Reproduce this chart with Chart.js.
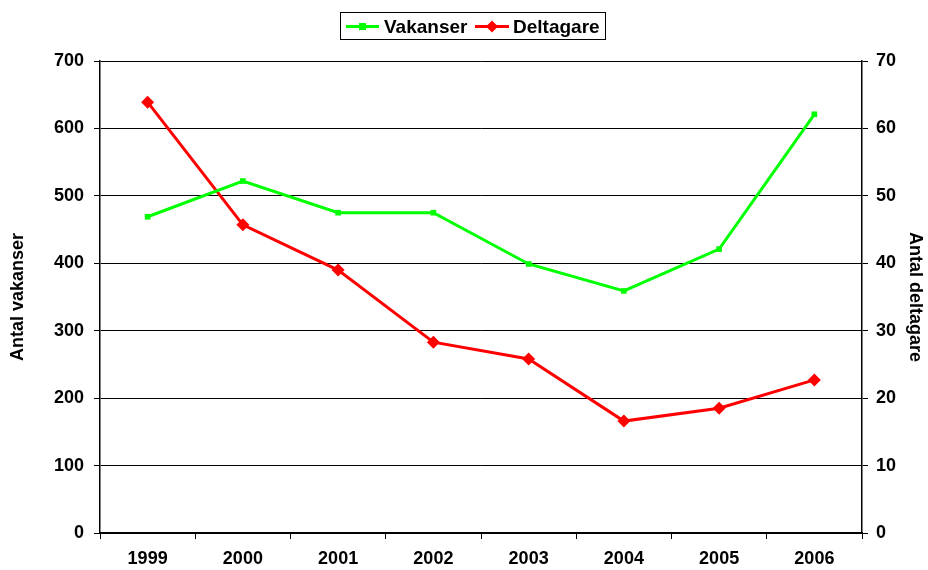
<!DOCTYPE html>
<html><head><meta charset="utf-8">
<script src="https://cdn.jsdelivr.net/npm/chart.js@4/dist/chart.umd.min.js"></script>
<style>html,body{margin:0;padding:0;background:#fff}#wrap{width:928px;height:570px}</style>
</head><body><div id="wrap"><canvas id="c" width="928" height="570"></canvas></div>
<script>
const years = ['1999','2000','2001','2002','2003','2004','2005','2006'];
const vakanser = [469, 522, 475, 475, 399, 359, 421, 621];
const deltagare = [63.9, 45.7, 39.0, 28.3, 25.8, 16.6, 18.5, 22.7];
const leftTicks = [0,100,200,300,400,500,600,700];
const rightTicks = [0,10,20,30,40,50,60,70];
const seriesNames = ['Vakanser','Deltagare'];

const FONT = 'Liberation Sans, Arial, sans-serif';

const legendPlugin = {
  id: 'boxLegend',
  afterDraw(chart) {
    const ctx = chart.ctx;
    ctx.save();
    const x0 = 340, y0 = 12, w = 265, h = 27;
    ctx.fillStyle = '#fff';
    ctx.fillRect(x0, y0, w, h);
    ctx.strokeStyle = '#000'; ctx.lineWidth = 1;
    ctx.strokeRect(x0 + 0.5, y0 + 0.5, w, h);
    const items = [
      {name: seriesNames[0], color: '#00ff00', style: 'rect', x: 346, len: 33, tx: 384},
      {name: seriesNames[1], color: '#ff0000', style: 'diamond', x: 475, len: 34, tx: 513}
    ];
    const cy = y0 + h / 2 + 1;
    ctx.font = 'bold 19px ' + FONT;
    ctx.textBaseline = 'middle';
    items.forEach(it => {
      ctx.strokeStyle = it.color; ctx.lineWidth = 3;
      ctx.beginPath(); ctx.moveTo(it.x, cy); ctx.lineTo(it.x + it.len, cy); ctx.stroke();
      ctx.fillStyle = it.color;
      const mx = it.x + it.len / 2;
      if (it.style === 'rect') { ctx.fillRect(mx - 3.5, cy - 3.5, 7, 7); }
      else { ctx.beginPath(); ctx.moveTo(mx, cy - 6); ctx.lineTo(mx + 6, cy); ctx.lineTo(mx, cy + 6); ctx.lineTo(mx - 6, cy); ctx.closePath(); ctx.fill(); }
      ctx.fillStyle = '#000';
      ctx.textAlign = 'left';
      ctx.fillText(it.name, it.tx, cy + 1);
    });
    ctx.restore();
  }
};

new Chart(document.getElementById('c'), {
  type: 'line',
  data: {
    labels: years,
    datasets: [
      { label: seriesNames[0], data: vakanser, yAxisID: 'y', borderColor: '#00ff00', backgroundColor: '#00ff00',
        borderWidth: 3, pointStyle: 'rect', pointRadius: 4, pointBorderWidth: 0, tension: 0 },
      { label: seriesNames[1], data: deltagare, yAxisID: 'y1', borderColor: '#ff0000', backgroundColor: '#ff0000',
        borderWidth: 3, pointStyle: 'rectRot', pointRadius: 6.5, pointBorderWidth: 0, tension: 0 }
    ]
  },
  options: {
    responsive: false, animation: false,
    layout: { padding: { top: 61, left: 0, right: 0, bottom: 0 } },
    plugins: { legend: { display: false }, tooltip: { enabled: false } },
    scales: {
      x: {
        offset: true,
        grid: { offset: true, drawOnChartArea: false, drawTicks: true, tickLength: 6, color: '#000', tickColor: '#000' },
        border: { color: '#000', width: 1.5 },
        ticks: { color: '#000', font: { family: FONT, size: 18, weight: 'bold' }, padding: 9, maxRotation: 0 },
        afterFit(s) { s.height = 37; }
      },
      y: {
        position: 'left', min: 0, max: 700,
        afterBuildTicks(s) { s.ticks = leftTicks.map(v => ({ value: v })); },
        grid: { color: '#000', tickColor: '#000', tickLength: 6, lineWidth: 1 },
        border: { color: '#000', width: 1.5 },
        ticks: { color: '#000', font: { family: FONT, size: 18, weight: 'bold' }, padding: 10 },
        title: { display: true, text: 'Antal vakanser', color: '#000', font: { family: FONT, size: 18, weight: 'bold' }, padding: { top: 7, bottom: 0 } },
        afterFit(s) { s.width = 100; }
      },
      y1: {
        position: 'right', min: 0, max: 70,
        afterBuildTicks(s) { s.ticks = rightTicks.map(v => ({ value: v })); },
        grid: { drawOnChartArea: false, color: '#000', tickColor: '#000', tickLength: 6 },
        border: { color: '#000', width: 1.5 },
        ticks: { color: '#000', font: { family: FONT, size: 18, weight: 'bold' }, padding: 8 },
        title: { display: true, text: 'Antal deltagare', color: '#000', font: { family: FONT, size: 18, weight: 'bold' }, padding: { top: 2, bottom: 0 } },
        afterFit(s) { s.width = 66; }
      }
    }
  },
  plugins: [legendPlugin]
});
</script></body></html>
